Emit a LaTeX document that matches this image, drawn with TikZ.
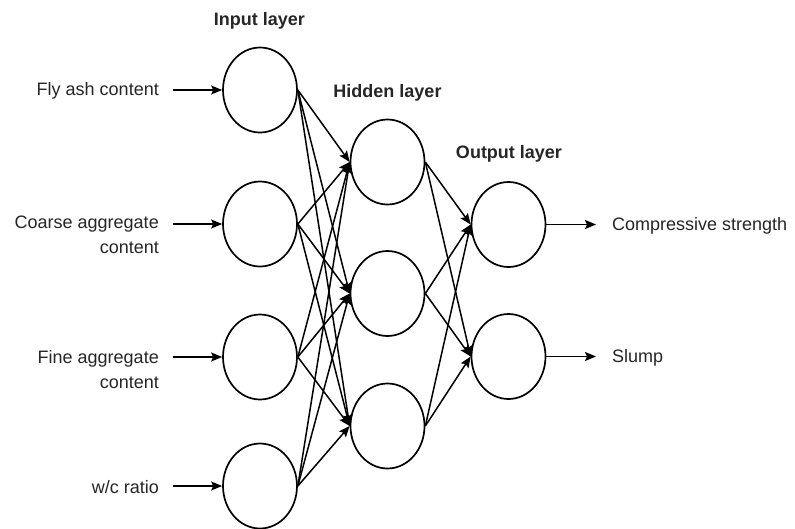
\documentclass[tikz,border=0pt]{standalone}
\usepackage{fontspec}
\setmainfont{Liberation Sans}
\usetikzlibrary{shapes.geometric,arrows.meta}
\begin{document}
\begin{tikzpicture}[x=1pt,y=-1pt,
  neuron/.style={ellipse,draw,line width=1.7pt,minimum width=74pt,minimum height=85pt,inner sep=0pt},
  conn/.style={line width=1.5pt,-{Stealth[length=11pt,width=9pt,inset=2pt]}},
  lbl/.style={font=\fontsize{18}{25}\selectfont,inner sep=0pt,text=black!85},
  ttl/.style={font=\fontsize{18}{22}\selectfont\bfseries,inner sep=0pt,text=black!85}]
\useasboundingbox[fill=white] (0,0) rectangle (795,528);
% titles
\node[ttl] (tin) at (259.5,21) {Input layer};
\node[ttl] (thid) at (387.5,93) {Hidden layer};
\node[ttl] (tout) at (509,154) {Output layer};
% neurons
\node[neuron] (i1) at (260,90) {};
\node[neuron] (i2) at (260,224) {};
\node[neuron] (i3) at (260,357) {};
\node[neuron] (i4) at (260,486) {};
\node[neuron] (h1) at (387.5,162) {};
\node[neuron] (h2) at (387.5,293.5) {};
\node[neuron] (h3) at (387.5,426) {};
\node[neuron] (o1) at (508.5,224.5) {};
\node[neuron] (o2) at (508.5,356.5) {};
% input labels
\node[lbl,anchor=east] (l1) at (159,91) {Fly ash content};
\node[lbl,anchor=north east,align=right] (l2) at (159,216) {Coarse aggregate\\content};
\node[lbl,anchor=north east,align=right] (l3) at (159,350) {Fine aggregate\\content};
\node[lbl,anchor=east] (l4) at (159,487) {w/c ratio};
% output labels
\node[lbl,anchor=west] (r1) at (612,225.5) {Compressive strength};
\node[lbl,anchor=west] (r2) at (612,357.5) {Slump};
% input arrows
\coordinate (a1) at (173,90);
\coordinate (a2) at (173,224);
\coordinate (a3) at (173,357);
\coordinate (a4) at (173,486);
\foreach \k in {1,2,3,4}{\draw[conn] (a\k) -- (i\k.west);}
% output arrows
\coordinate (b1) at (596,224.5);
\coordinate (b2) at (596,356.5);
\draw[conn] (o1.east) -- (b1);
\draw[conn] (o2.east) -- (b2);
% connections
\foreach \i in {1,2,3,4}{\foreach \h in {1,2,3}{\draw[conn] (i\i.east) -- (h\h.west);}}
\foreach \h in {1,2,3}{\foreach \o in {1,2}{\draw[conn] (h\h.east) -- (o\o.west);}}
\end{tikzpicture}
\end{document}
